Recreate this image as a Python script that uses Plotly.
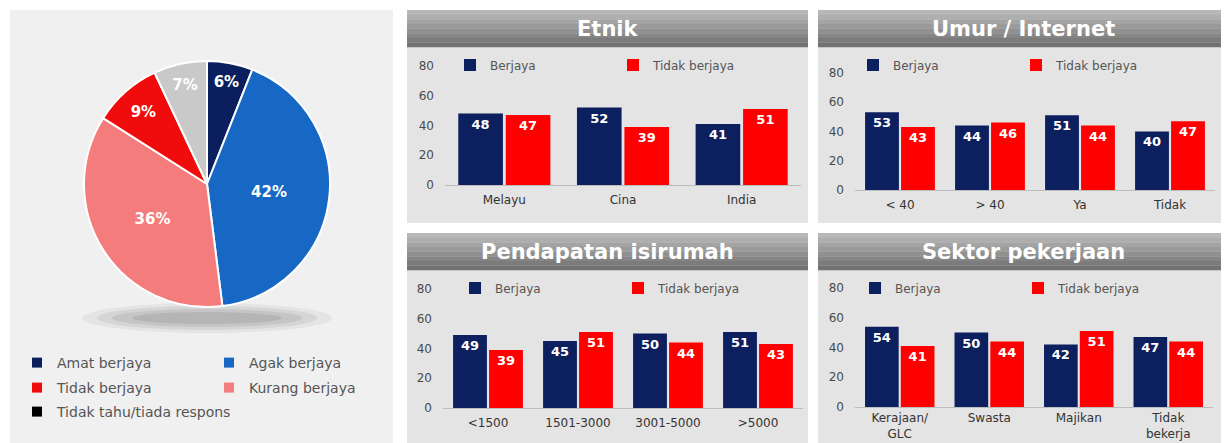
import plotly.graph_objects as go

# The page body keeps its default 8px margin, so the figure is sized to fill
# the rest of the 1229x443 window; positions below are window pixels.
WIN_W, WIN_H = 1229, 443
OFF = 8
W, H = WIN_W - OFF, WIN_H - OFF

# ---------------- data ----------------
pie_labels = ["Amat berjaya", "Agak berjaya", "Kurang berjaya", "Tidak berjaya", "Tidak tahu/tiada respons"]
pie_values = [6, 42, 36, 9, 7]

series_names = ["Berjaya", "Tidak berjaya"]

etnik_cats = ["Melayu", "Cina", "India"]
etnik_berjaya = [48, 52, 41]
etnik_tidak = [47, 39, 51]

umur_cats = ["< 40", "> 40", "Ya", "Tidak"]
umur_berjaya = [53, 44, 51, 40]
umur_tidak = [43, 46, 44, 47]

pend_cats = ["<1500", "1501-3000", "3001-5000", ">5000"]
pend_berjaya = [49, 45, 50, 51]
pend_tidak = [39, 51, 44, 43]

sektor_cats = ["Kerajaan/<br>GLC", "Swasta", "Majikan", "Tidak<br>bekerja"]
sektor_berjaya = [54, 50, 42, 47]
sektor_tidak = [41, 44, 51, 44]

panel_titles = ["Etnik", "Umur / Internet", "Pendapatan isirumah", "Sektor pekerjaan"]
y_ticks = [0, 20, 40, 60, 80]

# ---------------- styles ----------------
FONT = "DejaVu Sans"
NAVY = "#0C1F5F"
RED = "#FF0000"
pie_colors = ["#0B1F5E", "#1668C4", "#F47C7C", "#F00C0C", "#C9C9C9"]
pie_legend_color = {0: "#0B1F5E", 1: "#1668C4", 2: "#F47C7C", 3: "#F00C0C", 4: "#000000"}
pie_legend_order = [0, 1, 3, 2, 4]
pie_legend_groups = ["legend5", "legend5", "legend6", "legend6", "legend7"]


def px(x):
    return (x - OFF) / W


def py(y):
    return 1 - (y - OFF) / H


fig = go.Figure()

# ---------------- pie ----------------
fig.add_trace(go.Pie(
    labels=pie_labels, values=pie_values, sort=False, direction="clockwise", rotation=0,
    marker=dict(colors=pie_colors, line=dict(color="white", width=2)),
    texttemplate="%{value}%", textposition="inside", insidetextorientation="horizontal",
    textfont=dict(family=FONT, size=15, color="white", weight="bold"),
    domain=dict(x=[px(84), px(330)], y=[py(307), py(61)]),
    showlegend=False, hoverinfo="label+percent",
))

# legend entries for the pie (custom markers)
for pos, i in enumerate(pie_legend_order):
    fig.add_trace(go.Scatter(
        x=[None], y=[None], mode="markers", name=pie_labels[i],
        marker=dict(symbol="square", size=10, color=pie_legend_color[i]),
        legend=pie_legend_groups[pos], xaxis="x", yaxis="y",
        hoverinfo="skip",
    ))

# ---------------- bar panels ----------------
panels = [
    dict(cats=etnik_cats, b=etnik_berjaya, t=etnik_tidak, x0=445, x1=801, yz=185, yt=57,
         lx=470, ly=65, bx0=407, bx1=808, ty0=10, ty1=47, by1=223, so=4),
    dict(cats=umur_cats, b=umur_berjaya, t=umur_tidak, x0=855, x1=1215, yz=190, yt=64,
         lx=873, ly=65, bx0=818, bx1=1229, ty0=10, ty1=47, by1=223, so=4),
    dict(cats=pend_cats, b=pend_berjaya, t=pend_tidak, x0=443, x1=803, yz=408, yt=280,
         lx=475, ly=288, bx0=407, bx1=808, ty0=233, ty1=270, by1=443, so=4),
    dict(cats=sektor_cats, b=sektor_berjaya, t=sektor_tidak, x0=855, x1=1213, yz=407, yt=279,
         lx=875, ly=288, bx0=818, bx1=1229, ty0=233, ty1=270, by1=443, so=0),
]

shapes = []
annotations = []
layout_extra = {}

# left panel background
shapes.append(dict(type="rect", xref="paper", yref="paper", x0=px(10), x1=px(393), y0=py(443), y1=py(10),
                   fillcolor="#F0F0F0", line=dict(width=0), layer="below"))
# pie shadow
for dx, dy, op in [(125, 15, 0.08), (110, 12, 0.10), (95, 9, 0.12), (75, 6, 0.14)]:
    shapes.append(dict(type="circle", xref="paper", yref="paper", x0=px(207 - dx), x1=px(207 + dx),
                       y0=py(318 + dy), y1=py(318 - dy), fillcolor="#555555", opacity=op,
                       line=dict(width=0), layer="below"))

grad = ["#B8B8B8", "#AEAEAE", "#A4A4A4", "#9A9A9A", "#909090", "#868686", "#7C7C7C", "#727272"]

for i, p in enumerate(panels):
    n = "" if i == 0 else str(i + 1)
    leg = "legend" if i == 0 else f"legend{i + 1}"
    for name, vals, col in [(series_names[0], p["b"], NAVY), (series_names[1], p["t"], RED)]:
        fig.add_trace(go.Bar(
            x=p["cats"], y=vals, name=name, marker=dict(color=col, line=dict(width=0)),
            texttemplate="%{y}", textposition="inside", insidetextanchor="end",
            textfont=dict(family=FONT, size=13, color="white", weight="bold"),
            xaxis="x" + n, yaxis="y" + n, legend=leg,
        ))
    layout_extra["xaxis" + n] = dict(
        domain=[px(p["x0"]), px(p["x1"])], anchor="y" + n, type="category", automargin=False,
        showline=True, linecolor="#BDBDBD", linewidth=1, showgrid=False, ticks="",
        ticklabelstandoff=p["so"],
        tickfont=dict(family=FONT, size=12, color="#333333"), fixedrange=True,
    )
    layout_extra["yaxis" + n] = dict(
        domain=[py(p["yz"]), py(p["yt"])], anchor="x" + n, range=[0, 86], automargin=False,
        tickvals=y_ticks, showgrid=False, zeroline=False, showline=False, ticks="",
        ticklabelstandoff=10, tickfont=dict(family=FONT, size=12, color="#4A4A4A"), fixedrange=True,
    )
    layout_extra[leg] = dict(
        orientation="h", x=px(p["lx"] - 20), xanchor="left", y=py(p["ly"]), yanchor="middle",
        bgcolor="rgba(0,0,0,0)", borderwidth=0, entrywidth=118, entrywidthmode="pixels",
        font=dict(family=FONT, size=12, color="#555555"), itemclick=False, itemdoubleclick=False,
    )
    # panel body
    shapes.append(dict(type="rect", xref="paper", yref="paper", x0=px(p["bx0"]), x1=px(p["bx1"]),
                       y0=py(p["by1"]), y1=py(p["ty1"]), fillcolor="#E4E4E4", line=dict(width=0),
                       layer="below"))
    # title bar gradient strips
    h = (p["ty1"] - p["ty0"]) / len(grad)
    for k, c in enumerate(grad):
        shapes.append(dict(type="rect", xref="paper", yref="paper", x0=px(p["bx0"]), x1=px(p["bx1"]),
                           y0=py(p["ty0"] + (k + 1) * h + 0.3), y1=py(p["ty0"] + k * h),
                           fillcolor=c, line=dict(width=0), layer="below"))
    annotations.append(dict(text=panel_titles[i], xref="paper", yref="paper",
                            x=px((p["bx0"] + p["bx1"]) / 2), y=py((p["ty0"] + p["ty1"]) / 2),
                            xanchor="center", yanchor="middle", showarrow=False,
                            font=dict(family=FONT, size=21, color="white", weight="bold")))

# pie legends (three rows, two columns)
for leg, yy, ew in [("legend5", 363, 147), ("legend6", 388, 147), ("legend7", 412, None)]:
    d = dict(
        orientation="h", x=px(37 - 20), xanchor="left", y=py(yy), yanchor="middle",
        bgcolor="rgba(0,0,0,0)", borderwidth=0,
        font=dict(family=FONT, size=14, color="#555555"), itemclick=False, itemdoubleclick=False,
    )
    if ew:
        d["entrywidth"] = ew
        d["entrywidthmode"] = "pixels"
    layout_extra[leg] = d

fig.update_layout(
    width=W, height=H, margin=dict(l=0, r=0, t=0, b=0, autoexpand=False),
    paper_bgcolor="white", plot_bgcolor="#FBFBFB",
    barmode="group", bargap=0.2, bargroupgap=0.06,
    shapes=shapes, annotations=annotations,
    font=dict(family=FONT),
    **layout_extra,
)

fig.write_html("out.html", config={"displayModeBar": False})
